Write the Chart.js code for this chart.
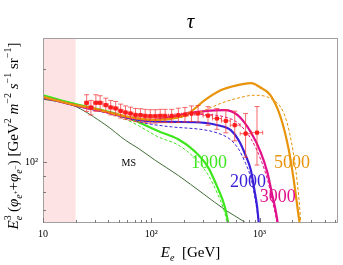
<!DOCTYPE html>
<html>
<head>
<meta charset="utf-8">
<script src="https://cdn.jsdelivr.net/npm/chart.js@4.4.1/dist/chart.umd.min.js"></script>
<style>
body { margin: 0; background: #fff; }
#wrap { width: 343px; height: 265px; }
</style>
</head>
<body>
<div id="wrap"><canvas id="myChart"></canvas></div>
<script>
// datos (E en GeV, flujo E^3 phi)
const ptE = [25.3, 27.7, 30.8, 33.7, 38.0, 42.2, 46.9, 52.1, 57.8, 64.3, 71.4, 79.4, 87.8, 97.9,
  108.8, 120.9, 134.3, 154.3, 177.7, 204.6, 235, 270.6, 334, 403.6, 488, 589.6, 743, 946.7];
const ptF = [155.5, 150.2, 155.5, 155.5, 152.8, 150.2, 149.1, 146.4, 144.7, 143.6, 142.1, 141.8, 141.1, 140.7,
  140.7, 141.1, 141.1, 141.1, 141.8, 142.5, 143.6, 143.6, 141.3, 138.3, 135.9, 131.6, 123.6, 124.5];
const ptErr = [9.6, 8.1, 9.6, 8.4, 8.2, 8.1, 8.0, 7.6, 7.2, 7.0, 7.0, 7.0, 7.0, 7.0,
  7.0, 7.0, 7.0, 7.0, 7.6, 7.7, 8.3, 8.8, 9.8, 10.7, 11.6, 14.5, 19.9, 26.7];

const msE = [10, 18.7, 38.2, 57.8, 76.6, 108.8, 177.6, 300, 491, 774, 900];
const msF = [159.8, 152.8, 131.6, 117.6, 110.5, 101.3, 90.5, 79.1, 69.7, 63.1, 60.7];

const e1000 = [10, 20, 40.7, 61.9, 76.6, 116.6, 177.6, 252, 334, 412, 474, 514, 535];
const f1000 = [164.5, 154, 145.5, 139, 134.5, 125.9, 118.5, 108.3, 96.3, 82.2, 72.3, 63.7, 60];
const e1000d = [10, 20, 40.7, 50, 61.9, 76.6, 116.6, 177.6, 252, 334, 412, 474, 510, 530];
const f1000d = [164.5, 154, 145, 141, 136, 131, 120.5, 113.5, 103, 91, 78.5, 69, 62, 59];

const e2000 = [10, 20, 40.7, 61.9, 76.6, 100, 153.6, 312, 412, 542, 641, 743, 831, 898, 946, 983, 1010];
const f2000 = [162, 152.5, 144.3, 139, 137, 135.5, 134.9, 133.9, 131.5, 126.8, 117.6, 105.1, 94, 80.9, 72.3, 63.7, 59];
const e2000d = [10, 20, 40.7, 61.9, 76.6, 100, 153.6, 312, 412, 542, 641, 743, 831, 898, 946, 990, 1010];
const f2000d = [162, 152.5, 144, 138, 135, 132.5, 130, 127, 124, 118, 110, 99, 89, 78, 70, 62, 59];

const e3000 = [10, 20, 40.7, 61.9, 100, 153, 219, 312, 474, 628, 831, 1025, 1180, 1312, 1407, 1500];
const f3000 = [162, 152.5, 144.5, 139.5, 137, 140, 143.9, 146.1, 147.2, 141.8, 124.9, 107.5, 92.6, 78, 69.7, 61];
const e3000d = [10, 20, 40.7, 61.9, 100, 153, 219, 312, 474, 628, 831, 1025, 1180, 1312, 1407, 1480];
const f3000d = [162, 152.5, 144.5, 139.5, 137, 139, 141.5, 142.5, 140, 134, 119, 102, 88, 75, 67, 61];

const e5000 = [10, 20, 26.7, 40.7, 61.9, 80, 100, 150, 219, 312, 442, 628, 774, 843, 1000, 1258, 1563, 1865, 2070, 2302, 2400];
const f5000 = [162.5, 152.8, 150.2, 144.7, 139.9, 138, 137, 138, 143.6, 158.6, 171, 177.4, 179.7, 180, 175, 164.7, 139.9, 109.1, 87.2, 66.3, 60];
const e5000d = [10, 20, 26.7, 40.7, 61.9, 80, 100, 150, 219, 312, 442, 628, 893, 1266, 1679, 1928, 2143, 2302, 2420];
const f5000d = [162.5, 152.8, 150.2, 144.7, 139.9, 138, 137, 138, 141, 147.2, 155, 161, 164.5, 160.6, 143.6, 120.6, 96.3, 77, 62];

const xTickVals = [10, 20, 30, 40, 50, 60, 70, 80, 90, 100, 200, 300, 400, 500, 600, 700, 800, 900,
  1000, 2000, 3000, 4000, 5000];
const xTickLabels = {10: '10', 100: '10²', 1000: '10³'};
const yTickVals = [70, 80, 90, 100, 200];
const yTickLabels = {100: '10²'};
const shadeRange = [10, 20];

// etiquetas de las curvas: [texto, E, flujo, color, tamaño]
const curveLabels = [
  ['MS', 62, 99, '#000', 10],
  ['1000', 341, 99, '#3ee61e', 18],
  ['2000', 783, 85.9, '#3a1fd8', 18],
  ['3000', 1472, 76.8, '#e0108c', 18],
  ['5000', 1996, 99, '#e8930a', 18]
];

const SERIF = '"Liberation Serif", "Times New Roman", serif';
const C_GREEN = '#3ee61e', C_BLUE = '#3a1fd8', C_MAG = '#e0108c', C_ORA = '#e8930a', C_MS = '#3f6b35';

const pairs = (xs, ys) => xs.map((v, i) => ({x: v, y: ys[i]}));
const curve = (label, xs, ys, color, width, dash) => ({
  label: label,
  data: pairs(xs, ys),
  showLine: true,
  borderColor: color,
  borderWidth: width,
  borderDash: dash || [],
  pointRadius: 0,
  fill: false,
  cubicInterpolationMode: 'monotone'
});

// bordes de bin para las barras horizontales
const binLo = ptE.map((v, i) => i > 0 ? Math.sqrt(v * ptE[i - 1]) : v * v / Math.sqrt(v * ptE[1]));
const binHi = ptE.map((v, i) => i < ptE.length - 1 ? Math.sqrt(v * ptE[i + 1]) : v * v / Math.sqrt(v * ptE[i - 1]));

function drawRich(ctx, runs, x, y, rot) {
  ctx.save();
  ctx.translate(x, y);
  if (rot) ctx.rotate(-Math.PI / 2);
  ctx.textBaseline = 'alphabetic';
  ctx.textAlign = 'left';
  const fnt = r => (r.it ? 'italic ' : '') + r.s + 'px ' + SERIF;
  let w = 0;
  runs.forEach(r => { ctx.font = fnt(r); if (!r.noAdv) w += ctx.measureText(r.t).width; });
  let cx = -w / 2;
  runs.forEach(r => {
    ctx.font = fnt(r);
    ctx.fillText(r.t, cx, r.dy || 0);
    if (!r.noAdv) cx += ctx.measureText(r.t).width;
  });
  ctx.restore();
}

const yTitle = [
  {t: 'E', s: 15, it: true}, {t: '3', s: 10, dy: -7, noAdv: true}, {t: 'e', s: 10, dy: 4, it: true},
  {t: ' (', s: 15}, {t: 'φ', s: 15, it: true}, {t: 'e', s: 10, dy: 4, it: true}, {t: '+', s: 7, dy: 0},
  {t: '+', s: 15}, {t: 'φ', s: 15, it: true}, {t: 'e', s: 10, dy: 4, it: true}, {t: '−', s: 7, dy: 0},
  {t: ') [GeV', s: 15}, {t: '2', s: 10, dy: -7}, {t: ' ', s: 15}, {t: 'm', s: 15, it: true},
  {t: '−2', s: 10, dy: -7}, {t: ' ', s: 15}, {t: 's', s: 15, it: true}, {t: '−1', s: 10, dy: -7},
  {t: ' sr', s: 15}, {t: '−1', s: 10, dy: -7}, {t: ']', s: 15}
];
const xTitle = [{t: 'E', s: 15, it: true}, {t: 'e', s: 10, dy: 4, it: true}, {t: '  [GeV]', s: 15}];

const extras = {
  id: 'extras',
  beforeDatasetsDraw(chart) {
    const {ctx, chartArea: a, scales: {x}} = chart;
    const x0 = x.getPixelForValue(shadeRange[0]), x1 = x.getPixelForValue(shadeRange[1]);
    ctx.save();
    ctx.fillStyle = '#fde3e3';
    ctx.fillRect(x0, a.top, x1 - x0, a.bottom - a.top);
    ctx.restore();
  },
  beforeDatasetDraw(chart, args) {
    if (args.index !== 0) return;
    const {ctx, scales: {x, y}} = chart;
    ctx.save();
    ctx.beginPath();
    ctx.rect(chart.chartArea.left, chart.chartArea.top, chart.chartArea.width, chart.chartArea.height);
    ctx.clip();
    ctx.strokeStyle = 'rgba(245,55,55,0.75)';
    ctx.lineWidth = 1;
    ptE.forEach((e, i) => {
      const px = x.getPixelForValue(e), py = y.getPixelForValue(ptF[i]);
      const yt = y.getPixelForValue(ptF[i] + ptErr[i]), yb = y.getPixelForValue(ptF[i] - ptErr[i]);
      const xl = x.getPixelForValue(binLo[i]), xr = x.getPixelForValue(binHi[i]);
      ctx.beginPath();
      ctx.moveTo(px, yt); ctx.lineTo(px, yb);
      ctx.moveTo(px - 2.5, yt); ctx.lineTo(px + 2.5, yt);
      ctx.moveTo(px - 2.5, yb); ctx.lineTo(px + 2.5, yb);
      ctx.moveTo(xl, py); ctx.lineTo(xr, py);
      ctx.moveTo(xl, py - 2); ctx.lineTo(xl, py + 2);
      ctx.moveTo(xr, py - 2); ctx.lineTo(xr, py + 2);
      ctx.stroke();
    });
    ctx.restore();
  },
  afterDraw(chart) {
    const {ctx, chartArea: a, scales: {x, y}} = chart;
    ctx.save();
    // marco
    ctx.strokeStyle = '#a0a0a0';
    ctx.lineWidth = 1;
    ctx.strokeRect(Math.round(a.left) + 0.5, Math.round(a.top) + 0.5, Math.round(a.width) - 1, Math.round(a.height) - 1);
    // marcas hacia adentro
    ctx.strokeStyle = '#7a7a7a';
    ctx.beginPath();
    xTickVals.forEach(v => {
      const px = Math.round(x.getPixelForValue(v)) + 0.5;
      const len = xTickLabels[v] ? 5 : 3;
      ctx.moveTo(px, a.bottom); ctx.lineTo(px, a.bottom - len);
    });
    yTickVals.forEach(v => {
      const py = Math.round(y.getPixelForValue(v)) + 0.5;
      const len = yTickLabels[v] ? 4 : 3;
      ctx.moveTo(a.left, py); ctx.lineTo(a.left + len, py);
    });
    ctx.stroke();
    // etiquetas de curvas
    ctx.textAlign = 'center';
    ctx.textBaseline = 'middle';
    curveLabels.forEach(([t, e, f, col, s]) => {
      ctx.fillStyle = col;
      ctx.font = s + 'px ' + SERIF;
      ctx.fillText(t, x.getPixelForValue(e), y.getPixelForValue(f));
    });
    // titulos
    ctx.fillStyle = '#000';
    drawRich(ctx, [{t: 'τ', s: 21, it: true}], (a.left + a.right) / 2, 28, false);
    drawRich(ctx, xTitle, (a.left + a.right) / 2, 257, false);
    drawRich(ctx, yTitle, 18, 136, true);
    ctx.restore();
  }
};

const ctx = document.getElementById('myChart').getContext('2d');
new Chart(ctx, {
  type: 'scatter',
  data: {
    datasets: [
      {
        label: 'datos',
        data: pairs(ptE, ptF),
        pointStyle: 'rect',
        pointRadius: 2.2,
        backgroundColor: '#ff1a1a',
        borderColor: '#ff1a1a',
        borderWidth: 1,
        showLine: false
      },
      curve('5000', e5000, f5000, C_ORA, 2.2),
      curve('5000 dashed', e5000d, f5000d, C_ORA, 1, [3, 2]),
      curve('3000', e3000, f3000, C_MAG, 2.2),
      curve('3000 dashed', e3000d, f3000d, C_MAG, 1, [3, 2]),
      curve('2000', e2000, f2000, C_BLUE, 2.2),
      curve('2000 dashed', e2000d, f2000d, C_BLUE, 1, [3, 2]),
      curve('1000', e1000, f1000, C_GREEN, 2.2),
      curve('1000 dashed', e1000d, f1000d, C_GREEN, 1, [3, 2]),
      curve('MS', msE, msF, C_MS, 1)
    ]
  },
  options: {
    responsive: true,
    maintainAspectRatio: false,
    animation: false,
    layout: {padding: {top: 38, right: 1, left: 0, bottom: 0}},
    plugins: {legend: {display: false}, tooltip: {enabled: false}, title: {display: false}},
    scales: {
      x: {
        type: 'logarithmic',
        min: 10,
        max: 5300,
        grid: {display: false, drawTicks: false},
        border: {display: false},
        afterBuildTicks: s => { s.ticks = xTickVals.map(v => ({value: v})); },
        afterFit: s => { s.height = 42; },
        ticks: {
          autoSkip: false,
          maxRotation: 0,
          padding: 5,
          color: '#000',
          font: {family: SERIF, size: 10},
          callback: v => xTickLabels[v] || ''
        }
      },
      y: {
        type: 'logarithmic',
        min: 63.5,
        max: 252,
        grid: {display: false, drawTicks: false},
        border: {display: false},
        afterBuildTicks: s => { s.ticks = yTickVals.map(v => ({value: v})); },
        afterFit: s => { s.width = 43; },
        ticks: {
          autoSkip: false,
          padding: 5,
          color: '#000',
          font: {family: SERIF, size: 10},
          callback: v => yTickLabels[v] || ''
        }
      }
    }
  },
  plugins: [extras]
});
</script>
</body>
</html>
